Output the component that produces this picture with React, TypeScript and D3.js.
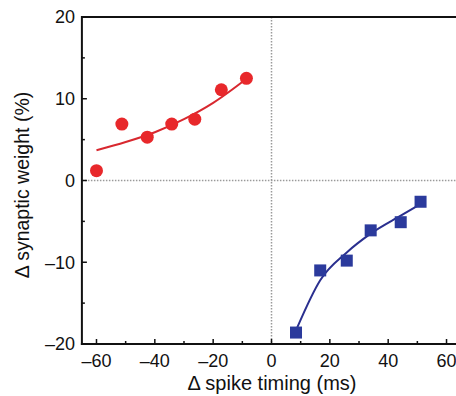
import React from "react";
import * as d3 from "d3";

const W = 456;
const H = 396;

// LTP (pre before post, negative timing) data
const redX = [-60, -51.3, -42.6, -34.2, -26.3, -17.2, -8.6];
const redY = [1.2, 6.9, 5.3, 6.9, 7.5, 11.1, 12.5];
// red fit curve
const redFitX = [-60, -50, -40, -30, -20, -8];
const redFitY = [3.7, 4.7, 5.9, 7.5, 9.5, 12.6];

// LTD data
const blueX = [8.4, 16.7, 25.8, 34, 44.3, 51.1];
const blueY = [-18.6, -11.0, -9.8, -6.1, -5.1, -2.6];
// blue fit curve
const blueFitX = [8.8, 16.7, 25.8, 34, 44.3, 51.5];
const blueFitY = [-18, -12.2, -8.8, -6.5, -4.3, -2.8];

const xMajor = [-60, -40, -20, 0, 20, 40, 60];
const xMinor = [-50, -30, -10, 10, 30, 50];
const yMajor = [-20, -10, 0, 10, 20];
const yMinor = [-15, -5, 5, 15];

const fmt = (v: number) => (v < 0 ? "\u2013" + Math.abs(v) : String(v));

export default function App() {
  const x = d3.scaleLinear().domain([-65, 65]).range([81.9, 81.9 + 130 * 2.917]);
  const y = d3.scaleLinear().domain([-20, 20]).range([344, 17]);
  const left = x(-65);
  const bottom = y(-20);
  const top = y(20);

  const line = d3
    .line<[number, number]>()
    .x((d) => x(d[0]))
    .y((d) => y(d[1]))
    .curve(d3.curveMonotoneX);

  const redFit = redFitX.map((v, i) => [v, redFitY[i]] as [number, number]);
  const blueFit = blueFitX.map((v, i) => [v, blueFitY[i]] as [number, number]);

  const font = "'Liberation Sans', Arial, Helvetica, sans-serif";
  const sq = 12;

  return (
    <svg
      width={W}
      height={H}
      style={{ position: "absolute", left: 0, top: 0, background: "#fff" }}
      fontFamily={font}
    >
      <rect width={W} height={H} fill="#fff" />
      {/* dotted zero lines */}
      <line
        x1={left}
        x2={W}
        y1={y(0)}
        y2={y(0)}
        stroke="#9a9a9a"
        strokeWidth={1.5}
        strokeDasharray="1.5,1.5"
      />
      <line
        x1={x(0)}
        x2={x(0)}
        y1={top}
        y2={bottom}
        stroke="#9a9a9a"
        strokeWidth={1.5}
        strokeDasharray="1.5,1.5"
      />
      {/* axes */}
      <line x1={left} x2={W} y1={top} y2={top} stroke="#111" strokeWidth={2.2} />
      <line x1={left} x2={left} y1={top - 1} y2={bottom + 1} stroke="#111" strokeWidth={2} />
      <line x1={left - 1} x2={W} y1={bottom} y2={bottom} stroke="#111" strokeWidth={2} />
      {yMajor.map((v) => (
        <g key={"ym" + v}>
          <line x1={left} x2={left + 5} y1={y(v)} y2={y(v)} stroke="#111" strokeWidth={1.5} />
          <text x={75} y={y(v)} dy="0.35em" textAnchor="end" fontSize={18} fill="#111">
            {fmt(v)}
          </text>
        </g>
      ))}
      {yMinor.map((v) => (
        <line key={"yn" + v} x1={left} x2={left + 3} y1={y(v)} y2={y(v)} stroke="#111" strokeWidth={1.5} />
      ))}
      {xMajor.map((v) => (
        <g key={"xm" + v}>
          <line x1={x(v)} x2={x(v)} y1={bottom} y2={bottom - 5} stroke="#111" strokeWidth={1.5} />
          <text x={x(v)} y={367} textAnchor="middle" fontSize={18} fill="#111">
            {fmt(v)}
          </text>
        </g>
      ))}
      {xMinor.map((v) => (
        <line key={"xn" + v} x1={x(v)} x2={x(v)} y1={bottom} y2={bottom - 3} stroke="#111" strokeWidth={1.5} />
      ))}
      {/* fits */}
      <path d={line(redFit) || ""} fill="none" stroke="#d8282f" strokeWidth={2} />
      <path d={line(blueFit) || ""} fill="none" stroke="#2a2f8f" strokeWidth={2} />
      {/* points */}
      {redX.map((v, i) => (
        <circle key={"r" + i} cx={x(v)} cy={y(redY[i])} r={6.5} fill="#e8282b" />
      ))}
      {blueX.map((v, i) => (
        <rect
          key={"b" + i}
          x={x(v) - sq / 2}
          y={y(blueY[i]) - sq / 2}
          width={sq}
          height={sq}
          fill="#2b3a9c"
        />
      ))}
      {/* titles */}
      <text x={272} y={390} textAnchor="middle" fontSize={20} fill="#111">
        {"\u0394 spike timing (ms)"}
      </text>
      <text
        transform={`translate(29,185) rotate(-90)`}
        textAnchor="middle"
        fontSize={19.5}
        fill="#111"
      >
        {"\u0394 synaptic weight (%)"}
      </text>
    </svg>
  );
}
